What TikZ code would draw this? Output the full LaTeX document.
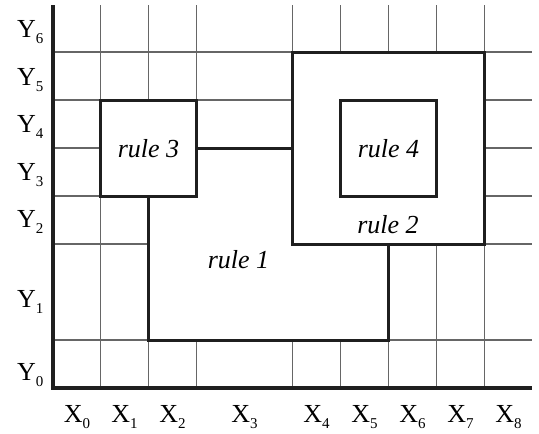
\documentclass[tikz,border=0pt]{standalone}
\usepackage{fontspec}
\setmainfont{Liberation Serif}
\newcommand\axlab[2]{#1\raisebox{-6pt}{\fontsize{15}{15}\selectfont #2}}
\tikzset{
  gridline/.style={line width=1.2pt, draw=black!60},
  axisline/.style={line width=3.5pt, draw=black!88},
  rulebox/.style={draw=black!88, line width=3pt, inner sep=0pt, outer sep=0pt, minimum size=#1},
  thick rule/.style={line width=3pt, draw=black!88},
  rulelab/.style={font=\fontsize{26}{30}\selectfont\itshape, anchor=base, inner sep=0pt},
  axlabx/.style={font=\fontsize{26}{30}\selectfont, anchor=base, inner sep=0pt},
  axlaby/.style={font=\fontsize{26}{30}\selectfont, anchor=base west, inner sep=0pt},
}
\begin{document}
\begin{tikzpicture}[x=1pt,y=-1pt]
\useasboundingbox (0,0) rectangle (539,434);

% grid
\foreach \gx in {100.5,148.5,196.5,292.5,340.5,388.5,436.5,484.5}
  \draw[gridline] (\gx,5) -- (\gx,388);
\foreach \gy in {52,100,148,196,244,340}
  \draw[gridline] (53,\gy) -- (532,\gy);

% axes
\draw[axisline] (53,5) -- (53,388) -- (532,388);

% the rule 1 region hides the grid
\fill[white] (148.5,196) -- (148.5,340) -- (388.5,340) -- (388.5,244)
  -- (292.5,244) -- (292.5,148) -- (196.5,148) -- (196.5,196) -- cycle;

% rule boxes
\node[rulebox=96pt, fill=white] (r3) at (148.5,148) {};
\node[rulebox=192pt, fill=white] (r2) at (388.5,148) {};
\node[rulebox=96pt, fill=white] (r4) at (388.5,148) {};

% rule 1 outline and connector
\coordinate (c1) at (148.5,340);
\coordinate (c2) at (388.5,340);
\draw[thick rule, line join=miter] (r3.south) -- (c1) -- (c2) -- (r2.south);
\draw[thick rule] (r3.east) -- (r2.west);

% rule labels
\node[rulelab] (l3) at (148.5,157) {rule 3};
\node[rulelab] (l4) at (388.5,157) {rule 4};
\node[rulelab] (l2) at (388,233) {rule 2};
\node[rulelab] (l1) at (238.5,268) {rule 1};

% axis labels
\node[axlabx] (x0) at (77,422) {\axlab{X}{0}};
\node[axlabx] (x1) at (124.5,422) {\axlab{X}{1}};
\node[axlabx] (x2) at (172.5,422) {\axlab{X}{2}};
\node[axlabx] (x3) at (244.5,422) {\axlab{X}{3}};
\node[axlabx] (x4) at (316.5,422) {\axlab{X}{4}};
\node[axlabx] (x5) at (364.5,422) {\axlab{X}{5}};
\node[axlabx] (x6) at (412.5,422) {\axlab{X}{6}};
\node[axlabx] (x7) at (460.5,422) {\axlab{X}{7}};
\node[axlabx] (x8) at (508.5,422) {\axlab{X}{8}};

\node[axlaby] (y6) at (17,37) {\axlab{Y}{6}};
\node[axlaby] (y5) at (17,85) {\axlab{Y}{5}};
\node[axlaby] (y4) at (17,132) {\axlab{Y}{4}};
\node[axlaby] (y3) at (17,180) {\axlab{Y}{3}};
\node[axlaby] (y2) at (17,227) {\axlab{Y}{2}};
\node[axlaby] (y1) at (17,307) {\axlab{Y}{1}};
\node[axlaby] (y0) at (17,380) {\axlab{Y}{0}};
\end{tikzpicture}
\end{document}
